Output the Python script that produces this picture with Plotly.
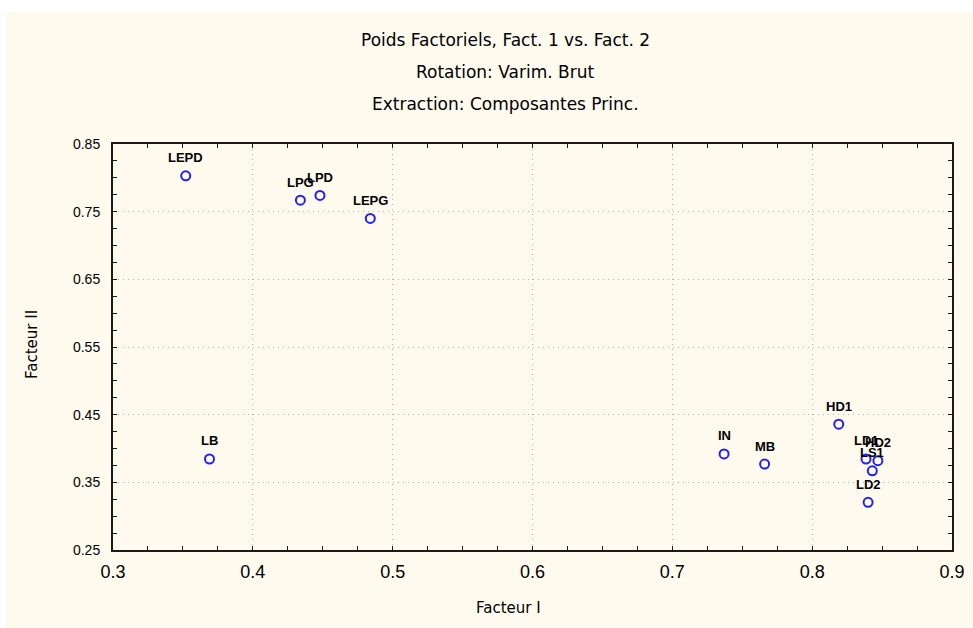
import plotly.graph_objects as go

# Factor loadings (Varimax rotation, principal components extraction)
variables = ["LEPD", "LPG", "LPD", "LEPG", "LB", "IN", "MB", "HD1", "LD1", "HD2", "LS1", "LD2"]
facteur_1 = [0.352, 0.434, 0.448, 0.484, 0.369, 0.737, 0.766, 0.819, 0.8385, 0.847, 0.843, 0.840]
facteur_2 = [0.803, 0.767, 0.774, 0.740, 0.3845, 0.392, 0.377, 0.436, 0.3845, 0.382, 0.367, 0.3205]

title_lines = [
    "Poids Factoriels, Fact. 1 vs. Fact. 2",
    "Rotation: Varim. Brut",
    "Extraction: Composantes Princ.",
]

W, H = 973, 628
L, R, T, B = 113, 21, 144, 78
plot_w = W - L - R
plot_h = H - T - B


def px_x(p):
    return (p - L) / plot_w


def px_y(p):
    return (H - B - p) / plot_h


SANS = "Liberation Sans, Arial, sans-serif"
WIDE = "DejaVu Sans, sans-serif"
CREAM = "#fefbee"
BLUE = "#1f1fff"

fig = go.Figure()
fig.add_trace(go.Scatter(
    x=facteur_1,
    y=facteur_2,
    mode="markers",
    marker=dict(symbol="circle-open", size=9, color=BLUE, line=dict(width=2, color=BLUE)),
    cliponaxis=False,
    showlegend=False,
))

axis_common = dict(
    showline=True,
    linecolor="#1a1a1a",
    linewidth=2,
    mirror="ticks",
    ticks="inside",
    ticklen=4,
    tickwidth=1,
    tickcolor="#1a1a1a",
    showgrid=True,
    gridcolor="#b0b0b0",
    gridwidth=1,
    griddash="1px,4px",
    zeroline=False,
    automargin=False,
    minor=dict(ticks="inside", ticklen=4, tickcolor="#1a1a1a", showgrid=False),
)

fig.update_xaxes(
    range=[0.3, 0.9], tick0=0.3, dtick=0.1, tickformat=".1f",
    minor_dtick=0.025, ticklabelstandoff=4,
    tickfont=dict(family=SANS, size=18, color="#000000"),
    **axis_common,
)
fig.update_yaxes(
    range=[0.25, 0.85], tick0=0.25, dtick=0.1, tickformat=".2f",
    minor_dtick=0.025, ticklabelstandoff=8,
    tickfont=dict(family=SANS, size=14, color="#000000"),
    **axis_common,
)

annotations = []
# variable names above each loading point
for name, fx, fy in zip(variables, facteur_1, facteur_2):
    annotations.append(dict(
        text=name, x=fx, y=fy, xref="x", yref="y",
        xanchor="center", yanchor="middle", yshift=18, showarrow=False,
        font=dict(family=SANS, size=13, color="#000000", weight="bold"),
    ))
for i, line in enumerate(title_lines):
    annotations.append(dict(
        text=line, x=px_x(505), y=px_y(40 + 32 * i), xref="paper", yref="paper",
        xanchor="center", yanchor="middle", showarrow=False,
        font=dict(family=WIDE, size=17, color="#000000"),
    ))
annotations.append(dict(
    text="Facteur I", x=px_x(508), y=px_y(608), xref="paper", yref="paper",
    xanchor="center", yanchor="middle", showarrow=False,
    font=dict(family=WIDE, size=15, color="#000000"),
))
annotations.append(dict(
    text="Facteur II", x=px_x(32), y=px_y(345), xref="paper", yref="paper",
    xanchor="center", yanchor="middle", showarrow=False, textangle=-90,
    font=dict(family=WIDE, size=15, color="#000000"),
))

fig.update_layout(
    width=W, height=H,
    margin=dict(l=L, r=R, t=T, b=B),
    paper_bgcolor="#ffffff",
    plot_bgcolor="#ffffff",
    annotations=annotations,
    shapes=[dict(
        type="rect", xref="paper", yref="paper", layer="below",
        x0=px_x(6), x1=px_x(W + 5), y0=px_y(H + 5), y1=px_y(12),
        fillcolor=CREAM, line=dict(width=0),
    )],
)

fig.write_html("out.html")
